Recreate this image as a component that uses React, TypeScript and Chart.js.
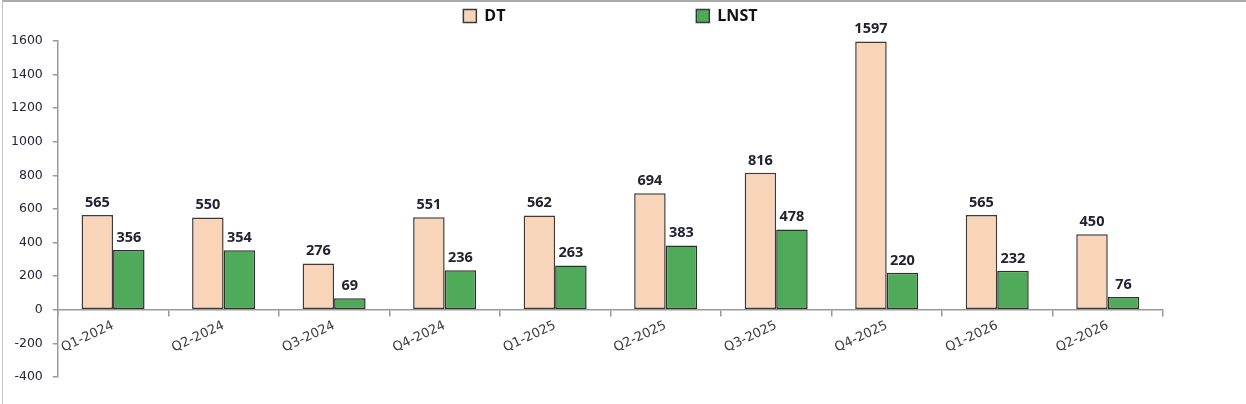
import React, { useEffect, useRef } from 'react';
import { Chart, registerables } from 'chart.js';

Chart.register(...registerables);

const categories = ['Q1-2024', 'Q2-2024', 'Q3-2024', 'Q4-2024', 'Q1-2025', 'Q2-2025', 'Q3-2025', 'Q4-2025', 'Q1-2026', 'Q2-2026'];
const seriesNames = ['DT', 'LNST'];
const dtValues = [565, 550, 276, 551, 562, 694, 816, 1597, 565, 450];
const lnstValues = [356, 354, 69, 236, 263, 383, 478, 220, 232, 76];
const yTicks = [-400, -200, 0, 200, 400, 600, 800, 1000, 1200, 1400, 1600];

const valueLabels = {
  id: 'valueLabels',
  afterDatasetsDraw(chart: any) {
    const ctx = chart.ctx;
    ctx.save();
    ctx.font = 'bold 14.5px "Open Sans"';
    ctx.fillStyle = '#222230';
    ctx.textAlign = 'center';
    ctx.textBaseline = 'bottom';
    chart.data.datasets.forEach((ds: any, i: number) => {
      const meta = chart.getDatasetMeta(i);
      meta.data.forEach((bar: any, j: number) => {
        ctx.fillText(String(ds.data[j]), bar.x, bar.y - 5);
      });
    });
    ctx.restore();
  },
};

export default function App() {
  const canvasRef = useRef<HTMLCanvasElement | null>(null);

  useEffect(() => {
    if (!canvasRef.current) return;
    const chart = new Chart(canvasRef.current, {
      type: 'bar',
      data: {
        labels: categories,
        datasets: [
          {
            label: seriesNames[0],
            data: dtValues,
            backgroundColor: '#F8D5B8',
            borderColor: '#3a3a3a',
            borderWidth: 1.5,
            borderSkipped: false,
            categoryPercentage: 0.57,
            barPercentage: 1,
          },
          {
            label: seriesNames[1],
            data: lnstValues,
            backgroundColor: '#4FAB59',
            borderColor: '#2f2f2f',
            borderWidth: 1.5,
            borderSkipped: false,
            categoryPercentage: 0.57,
            barPercentage: 1,
          },
        ],
      },
      options: {
        responsive: false,
        animation: false,
        layout: { padding: { left: 1, right: 83, top: 0, bottom: 27 } },
        plugins: {
          tooltip: { enabled: false },
          title: {
            display: true,
            text: '',
            padding: 0,
            font: { size: 7, lineHeight: 1 },
          },
          legend: {
            display: true,
            position: 'top',
            fullSize: false,
            weight: 3000,
            labels: {
              boxWidth: 13,
              boxHeight: 13,
              padding: 8,
              color: '#111',
              font: { family: '"Open Sans"', size: 16, weight: 'bold' },
              generateLabels: (c: any) =>
                c.data.datasets.map((ds: any, i: number) => ({
                  text: i === 0 ? ds.label + ' '.repeat(44) : ds.label,
                  fillStyle: ds.backgroundColor,
                  strokeStyle: '#3a3a3a',
                  lineWidth: 1.5,
                  hidden: false,
                  datasetIndex: i,
                  fontColor: '#111',
                })),
            },
          },
        },
        scales: {
          x: {
            type: 'category',
            offset: true,
            position: { y: 0 } as any,
            grid: {
              display: true,
              drawOnChartArea: false,
              drawTicks: true,
              tickLength: 6,
              color: '#9a9a9a',
              offset: true,
              lineWidth: 1.5,
            },
            border: { display: true, color: '#9a9a9a', width: 1.5 },
            ticks: {
              autoSkip: false,
              minRotation: 25,
              maxRotation: 25,
              padding: 2,
              color: '#3c3c3c',
              font: { family: '"DejaVu Sans"', size: 13 },
            },
          },
          y: {
            min: -400,
            max: 1600,
            afterBuildTicks: (axis: any) => {
              axis.ticks = yTicks.map((v) => ({ value: v }));
            },
            grid: {
              display: true,
              drawOnChartArea: false,
              drawTicks: true,
              tickLength: 5,
              color: '#9a9a9a',
              lineWidth: 1.5,
            },
            border: { display: true, color: '#9a9a9a', width: 1.5 },
            ticks: {
              padding: 10,
              color: '#24243c',
              font: { family: '"DejaVu Sans"', size: 12.5 },
              callback: (v: any) => String(v),
            },
          },
        },
      },
      plugins: [valueLabels],
    } as any);
    return () => chart.destroy();
  }, []);

  return (
    <div style={{ position: 'fixed', left: 0, top: 0, width: 1246, height: 404, background: '#fff' }}>
      <div
        style={{
          position: 'absolute',
          left: 2,
          top: 0,
          width: 1244,
          height: 404,
          boxSizing: 'border-box',
          borderTop: '2px solid #ababab',
          borderLeft: '1px solid #c4c4c4',
        }}
      />
      <canvas
        ref={canvasRef}
        width={1246}
        height={404}
        style={{ position: 'absolute', left: 0, top: 0, width: 1246, height: 404 }}
      />
    </div>
  );
}
